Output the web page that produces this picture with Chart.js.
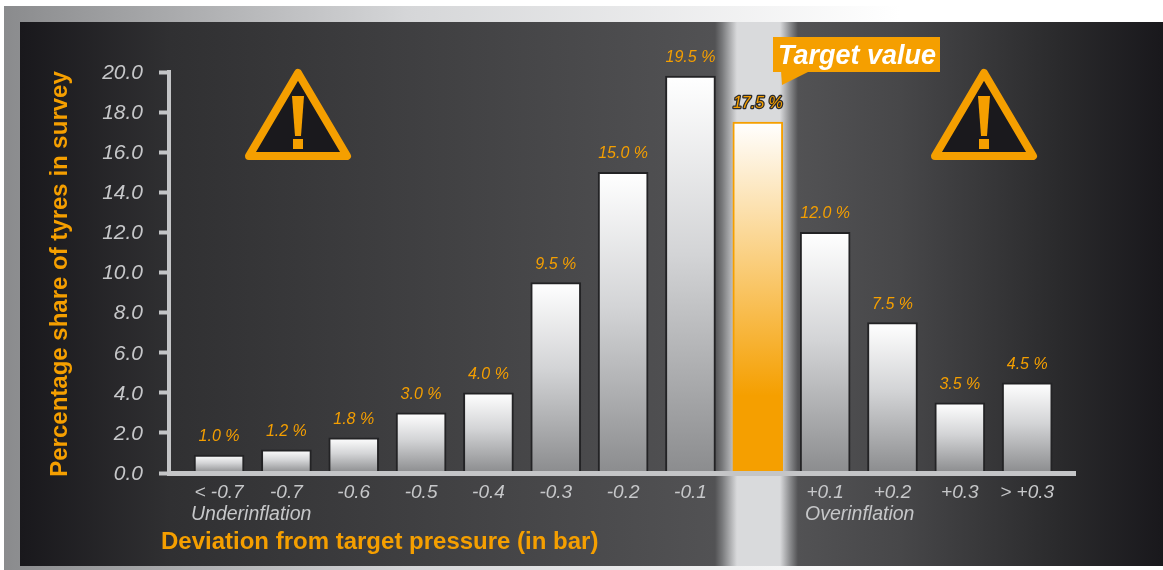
<!DOCTYPE html>
<html>
<head>
<meta charset="utf-8">
<title>Deviation from target pressure</title>
<script src="https://cdn.jsdelivr.net/npm/chart.js@4"></script>
<style>
    html, body { margin: 0; padding: 0; background: #fff; overflow: hidden; }
    canvas { display: block; }
</style>
</head>
<body>
<canvas id="tyreChart" width="1163" height="570"></canvas>
<script>
// Values
const categories = ['< -0.7', '-0.7', '-0.6', '-0.5', '-0.4', '-0.3', '-0.2', '-0.1', '', '+0.1', '+0.2', '+0.3', '> +0.3'];
const shares = [0.9, 1.15, 1.75, 3.0, 4.0, 9.5, 15.0, 19.8, 17.5, 12.0, 7.5, 3.5, 4.5];
const shareLabels = ['1.0 %', '1.2 %', '1.8 %', '3.0 %', '4.0 %', '9.5 %', '15.0 %', '19.5 %', '17.5 %', '12.0 %', '7.5 %', '3.5 %', '4.5 %'];
const targetIndex = 8;

const ORANGE = '#f59f00';
const AXIS_GREY = '#c4c5c7';
const TEXT_GREY = '#c6c7c9';
const FONT = '"Liberation Sans", Arial, sans-serif';

// Bar fill runs top to bottom of each bar
function barFill(context) {
    const chart = context.chart;
    const yScale = chart.scales.y;
    if (!yScale || context.dataIndex === undefined) return '#ccc';
    const top = yScale.getPixelForValue(shares[context.dataIndex]);
    const bottom = yScale.getPixelForValue(0);
    // Scale has no pixels yet on the first pass
    if (!Number.isFinite(top) || !Number.isFinite(bottom)) return '#ccc';
    const g = chart.ctx.createLinearGradient(0, top, 0, bottom);
    if (context.dataIndex === targetIndex) {
        g.addColorStop(0, '#ffffff');
        g.addColorStop(0.78, ORANGE);
        g.addColorStop(1, ORANGE);
    } else {
        g.addColorStop(0, '#ffffff');
        g.addColorStop(0.45, '#d3d4d6');
        g.addColorStop(1, '#8b8c8e');
    }
    return g;
}

function drawWarning(ctx, cx) {
    ctx.save();
    ctx.lineJoin = 'round';
    ctx.beginPath();
    ctx.moveTo(cx, 73);
    ctx.lineTo(cx + 49, 156);
    ctx.lineTo(cx - 49, 156);
    ctx.closePath();
    ctx.fillStyle = '#1a191d';
    ctx.strokeStyle = ORANGE;
    ctx.lineWidth = 8;
    ctx.fill();
    ctx.stroke();
    ctx.fillStyle = ORANGE;
    ctx.beginPath();
    ctx.moveTo(cx - 6, 96);
    ctx.lineTo(cx + 6, 96);
    ctx.lineTo(cx + 3, 136);
    ctx.lineTo(cx - 3, 136);
    ctx.closePath();
    ctx.fill();
    ctx.fillRect(cx - 5, 139, 10, 10);
    ctx.restore();
}

const panelPlugin = {
    id: 'panel',
    beforeDraw(chart) {
        const ctx = chart.ctx;
        // Grey frame strips
        const strip = ctx.createLinearGradient(4, 0, 900, 0);
        strip.addColorStop(0, '#8a8b8d');
        strip.addColorStop(0.45, '#d5d6d8');
        strip.addColorStop(1, '#ffffff');
        ctx.fillStyle = strip;
        ctx.fillRect(4, 6, 1159, 16);
        ctx.fillRect(4, 22, 16, 548);
        ctx.fillRect(4, 566, 1159, 4);

        // Dark panel with the bright target band
        const w = 1143;
        const stop = x => (x - 20) / w;
        const bg = ctx.createLinearGradient(20, 0, 1163, 0);
        bg.addColorStop(0, '#19181c');
        bg.addColorStop(stop(170), '#303032');
        bg.addColorStop(stop(715), '#525254');
        bg.addColorStop(stop(722), '#77787a');
        bg.addColorStop(stop(737), '#d9dadc');
        bg.addColorStop(stop(780), '#d9dadc');
        bg.addColorStop(stop(790), '#8b8c8e');
        bg.addColorStop(stop(798), '#525254');
        bg.addColorStop(stop(900), '#474749');
        bg.addColorStop(stop(1060), '#2a2a2c');
        bg.addColorStop(1, '#19181c');
        ctx.fillStyle = bg;
        ctx.fillRect(20, 22, w, 544);
    },
    afterDatasetsDraw(chart) {
        const ctx = chart.ctx;
        const bars = chart.getDatasetMeta(0).data;
        ctx.save();
        ctx.textAlign = 'center';
        ctx.textBaseline = 'alphabetic';
        ctx.lineJoin = 'round';
        bars.forEach((bar, i) => {
            const y = bar.y - 14;
            ctx.font = 'italic 16px ' + FONT;
            if (i === targetIndex) {
                ctx.strokeStyle = '#2a2a2c';
                ctx.lineWidth = 2.5;
                ctx.strokeText(shareLabels[i], bar.x, y);
            }
            ctx.fillStyle = ORANGE;
            ctx.fillText(shareLabels[i], bar.x, y);
        });
        ctx.restore();
    },
    afterDraw(chart) {
        const ctx = chart.ctx;
        drawWarning(ctx, 298);
        drawWarning(ctx, 984);

        ctx.save();
        // Target value callout
        ctx.fillStyle = ORANGE;
        ctx.fillRect(773, 37, 167, 35);
        ctx.beginPath();
        ctx.moveTo(781, 70);
        ctx.lineTo(782, 85);
        ctx.lineTo(808, 72);
        ctx.closePath();
        ctx.fill();
        ctx.fillStyle = '#ffffff';
        ctx.font = 'italic bold 27px ' + FONT;
        ctx.textAlign = 'left';
        ctx.textBaseline = 'alphabetic';
        ctx.fillText('Target value', 778, 64);

        // Captions under the axis
        ctx.fillStyle = TEXT_GREY;
        ctx.font = 'italic 19.5px ' + FONT;
        ctx.fillText('Underinflation', 191, 520);
        ctx.fillText('Overinflation', 805, 520);
        ctx.fillStyle = ORANGE;
        ctx.font = 'bold 24px ' + FONT;
        ctx.fillText('Deviation from target pressure (in bar)', 161, 549);

        // Y axis title
        ctx.translate(60, 274);
        ctx.rotate(-Math.PI / 2);
        ctx.textAlign = 'center';
        ctx.textBaseline = 'middle';
        ctx.fillText('Percentage share of tyres in survey', 0, 0);
        ctx.restore();
    }
};

new Chart(document.getElementById('tyreChart'), {
    type: 'bar',
    data: {
        datasets: [{
            label: 'Percentage share of tyres in survey',
            data: shares.map((v, i) => ({ x: i, y: v })),
            backgroundColor: barFill,
            borderColor: ctx => ctx.dataIndex === targetIndex ? ORANGE : '#232325',
            borderWidth: 2,
            borderSkipped: 'bottom',
            barThickness: 50
        }]
    },
    options: {
        responsive: false,
        animation: false,
        layout: { padding: { top: 72, right: 88, bottom: 0, left: 0 } },
        plugins: {
            legend: { display: false },
            tooltip: { enabled: false }
        },
        scales: {
            x: {
                type: 'linear',
                min: -0.743,
                max: 12.71,
                offset: false,
                afterBuildTicks(scale) {
                    scale.ticks = categories.map((_, i) => ({ value: i }));
                },
                afterFit(scale) {
                    scale.height = 97;
                },
                grid: { display: false, drawTicks: false },
                border: { display: true, color: AXIS_GREY, width: 5, z: 1 },
                ticks: {
                    callback: value => categories[value],
                    color: TEXT_GREY,
                    font: { family: FONT, size: 19, style: 'italic' },
                    autoSkip: false,
                    maxRotation: 0,
                    padding: 8
                }
            },
            y: {
                min: 0,
                max: 20,
                afterFit(scale) {
                    scale.width = 169;
                },
                grid: {
                    drawOnChartArea: false,
                    drawTicks: true,
                    tickLength: 10,
                    tickWidth: 4,
                    tickColor: AXIS_GREY
                },
                border: { color: AXIS_GREY, width: 4 },
                ticks: {
                    stepSize: 2,
                    callback: value => value.toFixed(1),
                    color: TEXT_GREY,
                    font: { family: FONT, size: 21, style: 'italic' },
                    padding: 16,
                    labelOffset: 1
                }
            }
        }
    },
    plugins: [panelPlugin]
});
</script>
</body>
</html>
